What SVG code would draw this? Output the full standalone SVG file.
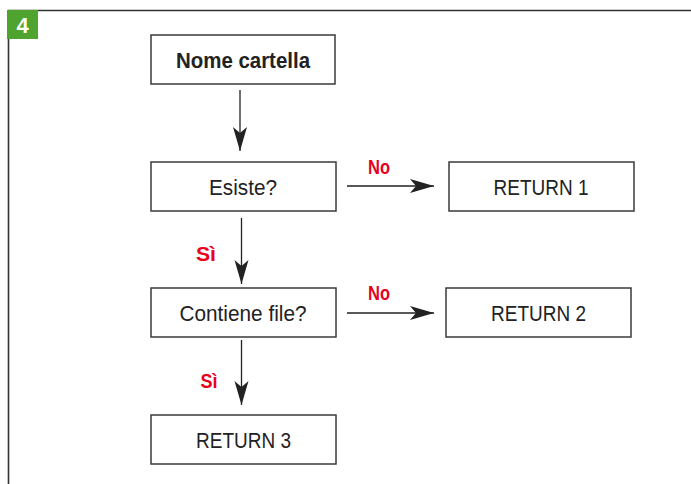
<svg xmlns="http://www.w3.org/2000/svg" width="691" height="484" viewBox="0 0 691 484">
<style>
.box{fill:#fff;stroke:#3a3a3a;stroke-width:1.5}
.t{font-family:"Liberation Sans",Arial,sans-serif;font-size:22px;fill:#222;text-anchor:middle}
.b{font-weight:bold}
.lbl{font-family:"Liberation Sans",Arial,sans-serif;font-size:21px;font-weight:bold;fill:#e8001c;text-anchor:middle}
.ln{stroke:#222;stroke-width:1.3;fill:none}
</style>
<defs>
<marker id="ah" markerUnits="userSpaceOnUse" markerWidth="26" markerHeight="16" refX="24" refY="7" orient="auto" viewBox="0 0 26 14">
<path d="M0,0 L24,7 L0,14 L6,7 Z" fill="#222"/>
</marker>
</defs>
<g id="frame">
<path d="M8.5,484 V10.5 H691" fill="none" stroke="#333" stroke-width="1.6"/>
<rect x="7" y="10" width="31" height="29" fill="#4ea42f"/>
<text x="22.5" y="33" font-family="Liberation Sans,Arial,sans-serif" font-size="22" font-weight="bold" fill="#fff" text-anchor="middle">4</text>
</g>
<g id="connectors">
<line class="ln" x1="240" y1="90" x2="240" y2="151" marker-end="url(#ah)"/>
<line class="ln" x1="347" y1="186" x2="434" y2="186" marker-end="url(#ah)"/>
<line class="ln" x1="241.5" y1="218" x2="241.5" y2="284" marker-end="url(#ah)"/>
<line class="ln" x1="347" y1="313" x2="434" y2="313" marker-end="url(#ah)"/>
<line class="ln" x1="241.5" y1="340" x2="241.5" y2="405" marker-end="url(#ah)"/>
<text class="lbl" x="379" y="174" textLength="22" lengthAdjust="spacingAndGlyphs">No</text>
<text class="lbl" x="206" y="261" textLength="20" lengthAdjust="spacingAndGlyphs">Sì</text>
<text class="lbl" x="379" y="300" textLength="22" lengthAdjust="spacingAndGlyphs">No</text>
<text class="lbl" x="209" y="388" textLength="17" lengthAdjust="spacingAndGlyphs">Sì</text>
</g>
<g id="n1"><rect class="box" x="151" y="35" width="184" height="49"/><text class="t b" x="243" y="68" textLength="134" lengthAdjust="spacingAndGlyphs">Nome cartella</text></g>
<g id="n2"><rect class="box" x="151" y="162" width="185" height="49"/><text class="t" x="243" y="195" textLength="68" lengthAdjust="spacingAndGlyphs">Esiste?</text></g>
<g id="n3"><rect class="box" x="449" y="162" width="185" height="49"/><text class="t" x="541" y="195" textLength="95" lengthAdjust="spacingAndGlyphs">RETURN 1</text></g>
<g id="n4"><rect class="box" x="151" y="288" width="185" height="49"/><text class="t" x="243" y="321" textLength="127" lengthAdjust="spacingAndGlyphs">Contiene file?</text></g>
<g id="n5"><rect class="box" x="446" y="288" width="185" height="49"/><text class="t" x="538.5" y="321" textLength="95" lengthAdjust="spacingAndGlyphs">RETURN 2</text></g>
<g id="n6"><rect class="box" x="151" y="415" width="185" height="49"/><text class="t" x="243.5" y="448" textLength="95" lengthAdjust="spacingAndGlyphs">RETURN 3</text></g>
</svg>
